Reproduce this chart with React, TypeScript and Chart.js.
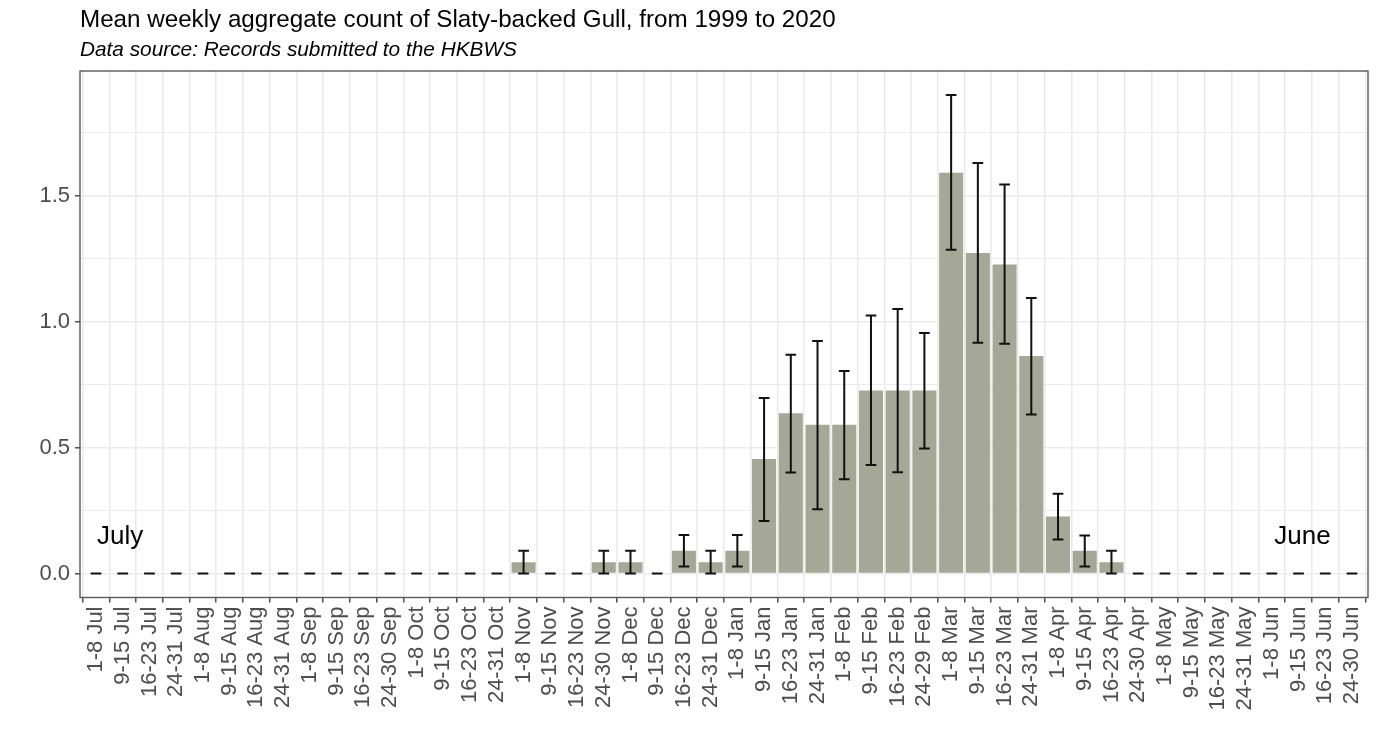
import React, { useEffect, useRef } from "react";
import { Chart, registerables } from "chart.js";

Chart.register(...registerables);

const categories = [
  "1-8 Jul", "9-15 Jul", "16-23 Jul", "24-31 Jul",
  "1-8 Aug", "9-15 Aug", "16-23 Aug", "24-31 Aug",
  "1-8 Sep", "9-15 Sep", "16-23 Sep", "24-30 Sep",
  "1-8 Oct", "9-15 Oct", "16-23 Oct", "24-31 Oct",
  "1-8 Nov", "9-15 Nov", "16-23 Nov", "24-30 Nov",
  "1-8 Dec", "9-15 Dec", "16-23 Dec", "24-31 Dec",
  "1-8 Jan", "9-15 Jan", "16-23 Jan", "24-31 Jan",
  "1-8 Feb", "9-15 Feb", "16-23 Feb", "24-29 Feb",
  "1-8 Mar", "9-15 Mar", "16-23 Mar", "24-31 Mar",
  "1-8 Apr", "9-15 Apr", "16-23 Apr", "24-30 Apr",
  "1-8 May", "9-15 May", "16-23 May", "24-31 May",
  "1-8 Jun", "9-15 Jun", "16-23 Jun", "24-30 Jun",
];

const meanCount = [
  0, 0, 0, 0,
  0, 0, 0, 0,
  0, 0, 0, 0,
  0, 0, 0, 0,
  0.045, 0, 0, 0.045,
  0.045, 0, 0.091, 0.045,
  0.091, 0.455, 0.636, 0.591,
  0.591, 0.727, 0.727, 0.727,
  1.591, 1.273, 1.227, 0.864,
  0.227, 0.091, 0.045, 0,
  0, 0, 0, 0,
  0, 0, 0, 0,
];

const errLow = [
  0, 0, 0, 0,
  0, 0, 0, 0,
  0, 0, 0, 0,
  0, 0, 0, 0,
  0, 0, 0, 0,
  0, 0, 0.028, 0,
  0.028, 0.209, 0.401, 0.255,
  0.374, 0.431, 0.402, 0.496,
  1.285, 0.916, 0.912, 0.631,
  0.135, 0.028, 0, 0,
  0, 0, 0, 0,
  0, 0, 0, 0,
];

const errHigh = [
  0, 0, 0, 0,
  0, 0, 0, 0,
  0, 0, 0, 0,
  0, 0, 0, 0,
  0.091, 0, 0, 0.091,
  0.091, 0, 0.153, 0.091,
  0.153, 0.697, 0.869, 0.923,
  0.804, 1.024, 1.05, 0.955,
  1.9, 1.63, 1.544, 1.094,
  0.317, 0.151, 0.091, 0,
  0, 0, 0, 0,
  0, 0, 0, 0,
];

const yTickValues = [0, 0.25, 0.5, 0.75, 1, 1.25, 1.5, 1.75];
const yMajorTicks = [0, 0.5, 1, 1.5];

const titleText = "Mean weekly aggregate count of Slaty-backed Gull, from 1999 to 2020";
const subtitleText = "Data source: Records submitted to the HKBWS";

const monthNotes = [
  { label: "July", x: 0.9, y: 0.116 },
  { label: "June", x: 45.15, y: 0.116 },
];

const FONT = '"Liberation Sans", Arial, Helvetica, sans-serif';

const isMajor = (v: number) => yMajorTicks.some((m) => Math.abs(m - v) < 1e-9);

const decorPlugin = {
  id: "decor",
  afterDatasetsDraw(chart: any) {
    const { ctx, chartArea, scales } = chart;
    const xs = scales.x;
    const ys = scales.y;
    const step = xs.getPixelForValue(1) - xs.getPixelForValue(0);
    const capHalf = step * 0.2;
    ctx.save();
    // error bars
    ctx.strokeStyle = "#111111";
    ctx.lineWidth = 2;
    ctx.lineCap = "butt";
    for (let i = 0; i < categories.length; i++) {
      const px = xs.getPixelForValue(i);
      const yl = ys.getPixelForValue(errLow[i]);
      const yh = ys.getPixelForValue(errHigh[i]);
      ctx.beginPath();
      ctx.moveTo(px, yl);
      ctx.lineTo(px, yh);
      ctx.moveTo(px - capHalf, yl);
      ctx.lineTo(px + capHalf, yl);
      ctx.moveTo(px - capHalf, yh);
      ctx.lineTo(px + capHalf, yh);
      ctx.stroke();
    }
    // month notes
    ctx.fillStyle = "#000000";
    ctx.font = `26px ${FONT}`;
    ctx.textAlign = "center";
    ctx.textBaseline = "alphabetic";
    for (const n of monthNotes) {
      ctx.fillText(n.label, xs.getPixelForValue(n.x), ys.getPixelForValue(n.y));
    }
    // panel border
    ctx.strokeStyle = "#595959";
    ctx.lineWidth = 1.4;
    ctx.strokeRect(
      chartArea.left,
      chartArea.top,
      chartArea.right - chartArea.left,
      chartArea.bottom - chartArea.top
    );
    ctx.restore();
  },
  afterDraw(chart: any) {
    const { ctx, chartArea } = chart;
    ctx.save();
    ctx.fillStyle = "#000000";
    ctx.textAlign = "left";
    ctx.textBaseline = "alphabetic";
    ctx.font = `24.2px ${FONT}`;
    ctx.fillText(titleText, chartArea.left, 27);
    ctx.font = `italic 20.8px ${FONT}`;
    ctx.fillText(subtitleText, chartArea.left, 56);
    ctx.restore();
  },
};

export default function App() {
  const canvasRef = useRef<HTMLCanvasElement | null>(null);

  useEffect(() => {
    const canvas = canvasRef.current;
    if (!canvas) return;
    const chart = new Chart(canvas, {
      type: "bar",
      data: {
        datasets: [
          {
            label: "Mean weekly count",
            data: meanCount.map((v, i) => ({ x: i, y: v })),
            backgroundColor: "#A5A797",
            borderWidth: 0,
            barPercentage: 0.9,
            categoryPercentage: 1.0,
          },
        ],
      },
      options: {
        animation: false,
        responsive: false,
        devicePixelRatio: 1,
        layout: { padding: { top: 71, left: 0, right: 11, bottom: 0 } },
        plugins: {
          legend: { display: false },
          title: { display: false },
          tooltip: { enabled: false },
        },
        scales: {
          x: {
            type: "linear",
            min: -0.6,
            max: categories.length - 1 + 0.6,
            offset: false,
            afterBuildTicks: (axis: any) => {
              axis.ticks = categories.map((_, i) => ({ value: i }));
            },
            afterFit: (scale: any) => {
              scale.height = 752 - 597.5;
              scale.paddingLeft = 0;
              scale.paddingRight = 0;
            },
            ticks: {
              autoSkip: false,
              minRotation: 90,
              maxRotation: 90,
              padding: 4,
              color: "#4D4D4D",
              font: { family: FONT, size: 22 },
              callback: (v: any) => categories[Math.round(Number(v))] ?? "",
            },
            grid: {
              color: "#EBEBEB",
              lineWidth: 1.6,
              tickColor: "#333333",
              tickLength: 5,
              tickWidth: 1.3,
              drawTicks: true,
            },
            border: { display: false },
          },
          y: {
            type: "linear",
            min: -0.095,
            max: 1.995,
            afterBuildTicks: (axis: any) => {
              axis.ticks = yTickValues.map((v) => ({ value: v }));
            },
            afterFit: (scale: any) => {
              scale.width = 80;
              scale.paddingTop = 0;
              scale.paddingBottom = 0;
            },
            ticks: {
              padding: 5,
              color: "#4D4D4D",
              font: { family: FONT, size: 22 },
              callback: (v: any) => (isMajor(Number(v)) ? Number(v).toFixed(1) : ""),
            },
            grid: {
              color: "#EBEBEB",
              lineWidth: (ctx: any) => (isMajor(ctx.tick?.value) ? 1.6 : 1.1),
              tickColor: (ctx: any) =>
                isMajor(ctx.tick?.value) ? "#333333" : "rgba(0,0,0,0)",
              tickLength: 5,
              tickWidth: 1.3,
              drawTicks: true,
            },
            border: { display: false },
          },
        },
      },
      plugins: [decorPlugin],
    });
    return () => chart.destroy();
  }, []);

  return (
    <div style={{ position: "absolute", left: 0, top: 0, width: 1379, height: 752, background: "#ffffff" }}>
      <canvas ref={canvasRef} width={1379} height={752} style={{ display: "block" }} />
    </div>
  );
}
